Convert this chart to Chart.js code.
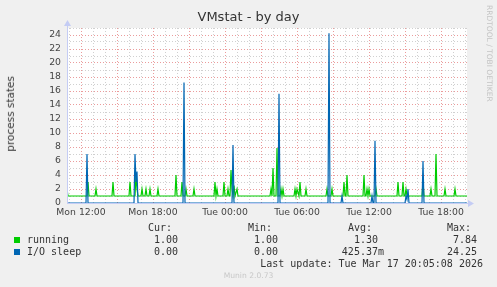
<!DOCTYPE html>
<html>
<head>
<meta charset="utf-8">
<script src="https://cdn.jsdelivr.net/npm/chart.js@4/dist/chart.umd.min.js"></script>
<style>
body { margin: 0; background: #f0f0f0; }
#wrap { position: relative; width: 497px; height: 287px; overflow: hidden; font-family: "DejaVu Sans", sans-serif; }
canvas { position: absolute; left: 0; top: 0; }
.t { position: absolute; white-space: pre; line-height: 12px; }
.mono { font-family: "DejaVu Sans Mono", monospace; font-size: 10px; color: #333; }
.sq { position: absolute; width: 6px; height: 6px; }
</style>
</head>
<body>
<div id="wrap">
<canvas id="chart" width="497" height="287"></canvas>
<div class="t" id="title" style="left:0;width:497px;top:9px;text-align:center;font-size:13px;color:#333;line-height:16px;"></div>
<div class="t" id="ylabel" style="left:4px;top:76px;writing-mode:vertical-rl;transform:rotate(180deg);font-size:10.5px;color:#333;"></div>
<div class="t" style="left:483px;top:5px;writing-mode:vertical-rl;font-size:7.5px;color:#c4c4c4;">RRDTOOL / TOBI OETIKER</div>
<div id="legend"></div>
<div class="t" style="left:0;width:497px;top:270px;text-align:center;font-size:7.6px;color:#c8c8c8;">Munin 2.0.73</div>
</div>
<script>
// one sample every 5 minutes, sample 0 = Mon 10:50
const title = "VMstat - by day";
const yTitle = "process states";
const sampleCount = 400;

const runningX = [0, 1, 20, 21, 22, 28, 29, 30, 45, 46, 47, 62, 63, 64, 68, 69, 70, 71, 74, 75, 76, 78, 79, 80, 82, 83, 84,
	90, 91, 92, 108, 109, 110, 114, 115, 116, 118, 119, 120, 126, 127, 128, 147, 148, 149, 150, 151,
	156, 157, 158, 160, 161, 162, 163, 164, 165, 166, 167, 168, 170, 171,
	203, 204, 205, 206, 207, 209, 210, 211, 213, 214, 215, 216, 217,
	227, 228, 229, 230, 232, 233, 234, 238, 239, 240, 259, 260, 261, 264, 265, 266,
	276, 277, 278, 279, 280, 281, 296, 297, 298, 299, 300, 301, 302, 303, 308, 309, 310,
	330, 331, 332, 335, 336, 337, 338, 339, 340, 355, 356, 357, 363, 364, 365,
	368, 369, 370, 377, 378, 379, 387, 388, 389, 400];
const runningY = [2, 1, 1, 3, 1, 1, 2, 1, 1, 3, 1, 1, 3, 1, 1, 4, 2, 1, 1, 2, 1, 1, 2, 1, 1, 2, 1,
	1, 2, 1, 1, 4, 1, 1, 3, 1, 1, 2, 1, 1, 2, 1, 1, 3, 1, 2, 1,
	1, 3, 1, 1, 2, 1, 1, 4.7, 2, 1, 2.5, 1, 2, 1,
	1, 2, 1, 5, 1, 1, 7.84, 1, 1, 2, 1, 2, 1,
	1, 2, 1, 2, 1, 3, 1, 1, 2, 1, 1, 2, 1, 1, 2, 1,
	1, 3, 1, 1, 4, 1, 1, 4, 1, 1, 2, 1, 2, 1, 1, 2, 1,
	1, 3, 1, 1, 3, 1, 1, 2, 1, 1, 3, 1, 1, 2, 1,
	1, 7, 1, 1, 2, 1, 1, 2, 1, 1];

const ioX = [0, 19, 20, 21, 67, 68, 69, 70, 71, 116, 117, 118, 165, 166, 167, 211, 212, 213, 261, 262, 263,
	274, 275, 276, 304, 305, 306, 307, 308, 309, 338, 339, 340, 341, 342, 355, 356, 357, 400];
const ioY = [0, 0, 7, 0, 0, 7, 3, 4.5, 0, 0, 17.2, 0, 0, 8.3, 0, 0, 15.6, 0, 0, 24.25, 0,
	0, 1, 0, 0, 1, 0, 0, 8.9, 0, 0, 1, 0.5, 2, 0, 0, 6, 0, 0];

const tickSamples = [14, 86, 158, 230, 302, 374];
const tickLabels = ["Mon 12:00", "Mon 18:00", "Tue 00:00", "Tue 06:00", "Tue 12:00", "Tue 18:00"];

const seriesNames = ["running", "I/O sleep"];
const seriesColors = ["#00cc00", "#0066b3"];
const curValues = ["1.00", "0.00"];
const minValues = ["1.00", "0.00"];
const avgValues = ["1.30", "425.37m"];
const maxValues = ["7.84", "24.25"];
const lastUpdate = "Last update: Tue Mar 17 20:05:08 2026";

document.getElementById("title").textContent = title;
document.getElementById("ylabel").textContent = yTitle;

// legend block
let legend = document.getElementById("legend");
function addText(txt, left, right, top) {
	let d = document.createElement("div");
	d.className = "t mono";
	d.textContent = txt;
	if (left !== null) d.style.left = left + "px";
	if (right !== null) d.style.right = (497 - right) + "px";
	d.style.top = top + "px";
	legend.appendChild(d);
}
addText("Cur:", null, 172, 222);
addText("Min:", null, 272, 222);
addText("Avg:", null, 372, 222);
addText("Max:", null, 471, 222);
for (let i = 0; i < seriesNames.length; i++) {
	let top = 234 + i * 12;
	let sq = document.createElement("div");
	sq.className = "sq";
	sq.style.left = "14px";
	sq.style.top = (top + 3) + "px";
	sq.style.background = seriesColors[i];
	legend.appendChild(sq);
	addText(seriesNames[i], 27, null, top);
	addText(curValues[i], null, 178, top);
	addText(minValues[i], null, 278, top);
	// "m" suffix hangs past the column edge
	addText(avgValues[i], null, avgValues[i].endsWith("m") ? 384 : 378, top);
	addText(maxValues[i], null, 477, top);
}
addText(lastUpdate, null, 483, 258);

// hourly grid positions
let hourTicks = [];
for (let s = 2; s <= sampleCount; s += 12) hourTicks.push(s);

const axisColor = "#c4ccf4";
const plotBg = {
	id: "plotBg",
	beforeDraw(chart) {
		let a = chart.chartArea, c = chart.ctx;
		c.save();
		c.fillStyle = "#ffffff";
		c.fillRect(a.left, a.top, a.right - a.left, a.bottom - a.top);
		c.restore();
	},
	afterDatasetsDraw(chart) {
		let a = chart.chartArea, c = chart.ctx;
		c.save();
		c.strokeStyle = axisColor;
		c.fillStyle = axisColor;
		c.lineWidth = 1;
		c.beginPath();
		c.moveTo(a.left + 0.5, a.bottom + 0.5);
		c.lineTo(a.left + 0.5, a.top - 4);
		c.moveTo(a.left, a.bottom + 0.5);
		c.lineTo(a.right + 4, a.bottom + 0.5);
		c.stroke();
		c.beginPath();
		c.moveTo(a.left - 3, a.top - 2);
		c.lineTo(a.left + 4, a.top - 2);
		c.lineTo(a.left + 0.5, a.top - 8);
		c.fill();
		c.beginPath();
		c.moveTo(a.right + 1, a.bottom - 3);
		c.lineTo(a.right + 1, a.bottom + 4);
		c.lineTo(a.right + 7, a.bottom + 0.5);
		c.fill();
		c.restore();
	}
};

let ctx = document.getElementById("chart").getContext("2d");
let chart = new Chart(ctx, {
	type: "line",
	data: {
		datasets: [{
			label: seriesNames[1],
			data: ioX.map((x, i) => ({x: x, y: ioY[i]})),
			borderColor: seriesColors[1],
			borderWidth: 1.2,
			pointRadius: 0,
			tension: 0,
			order: 1
		}, {
			label: seriesNames[0],
			data: runningX.map((x, i) => ({x: x, y: runningY[i]})),
			borderColor: seriesColors[0],
			borderWidth: 1.2,
			pointRadius: 0,
			tension: 0,
			order: 2
		}]
	},
	options: {
		responsive: false,
		animation: false,
		events: [],
		layout: {padding: {left: 0, top: 28, right: 30, bottom: 70}},
		plugins: {legend: {display: false}, tooltip: {enabled: false}},
		scales: {
			x: {
				type: "linear",
				min: 0,
				max: sampleCount,
				afterBuildTicks: (s) => { s.ticks = hourTicks.map((v) => ({value: v})); },
				afterFit: (s) => { s.height = 14; },
				grid: {
					drawTicks: false,
					lineWidth: 1,
					color: (c) => ((c.tick.value - 14) % 36 === 0 ? "#eb9c9c" : "#d0d0d0")
				},
				border: {display: false, dash: [1, 2]},
				ticks: {
					autoSkip: false,
					maxRotation: 0,
					padding: 4,
					color: "#444",
					font: {family: "DejaVu Sans", size: 9.3},
					callback: (v) => {
						let i = tickSamples.indexOf(v);
						return i >= 0 ? tickLabels[i] : "";
					}
				}
			},
			y: {
				min: 0,
				max: 25,
				afterFit: (s) => { s.width = 67; },
				grid: {
					drawTicks: false,
					lineWidth: 1,
					color: (c) => (c.tick.value % 2 === 0 ? "#eb9c9c" : "#d0d0d0")
				},
				border: {display: false, dash: [1, 2]},
				ticks: {
					stepSize: 1,
					autoSkip: false,
					padding: 6,
					color: "#444",
					font: {family: "DejaVu Sans", size: 9.3},
					callback: (v) => (v % 2 === 0 && v < 25 ? String(v) : "")
				}
			}
		}
	},
	plugins: [plotBg]
});
</script>
</body>
</html>
